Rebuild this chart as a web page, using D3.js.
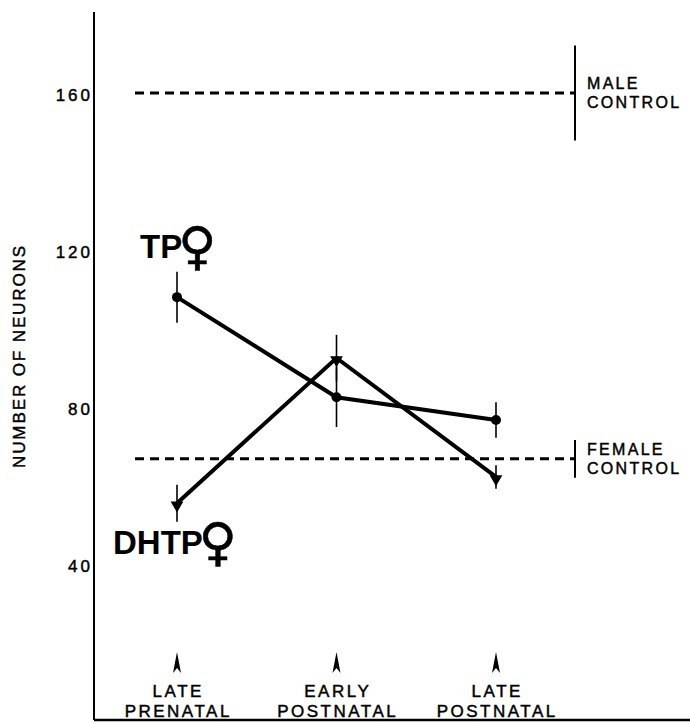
<!DOCTYPE html>
<html>
<head>
<meta charset="utf-8">
<script src="https://cdn.jsdelivr.net/npm/d3@7"></script>
<style>
  body { margin: 0; background: #fff; }
  text { font-family: "Liberation Sans", Arial, Helvetica, sans-serif; fill: #000; }
  .small { stroke: #000; stroke-width: 0.45px; }
</style>
</head>
<body>
<svg id="chart"></svg>
<script>
// ages of treatment (x categories)
var ages = ["LATE PRENATAL", "EARLY POSTNATAL", "LATE POSTNATAL"];
var ageLines = [["LATE", "PRENATAL"], ["EARLY", "POSTNATAL"], ["LATE", "POSTNATAL"]];

// number of neurons, mean and error
var tpValues = [108.5, 83, 77.2];
var tpErrors = [6.5, 7.6, 4.5];
var dhtpValues = [56, 93, 62.7];
var dhtpErrors = [4.7, 5.9, 3];

// controls
var controlNames = [["MALE", "CONTROL"], ["FEMALE", "CONTROL"]];
var controlValues = [160.5, 67.3];
var controlErrors = [12.1, 4.8];

var yTicks = [40, 80, 120, 160];

var settings = { width: 690, height: 723 };

var svg = d3.select("#chart")
    .attr("width", settings.width)
    .attr("height", settings.height);

var y = d3.scaleLinear().domain([40, 160]).range([566, 95]);
var x = d3.scalePoint().domain(ages).range([177, 496]);

var axisX = 94;
var bottomY = 720;

// axes frame
svg.append("line")
    .attr("x1", axisX).attr("x2", axisX)
    .attr("y1", 12).attr("y2", bottomY)
    .attr("stroke", "#000").attr("stroke-width", 2);
svg.append("line")
    .attr("x1", axisX).attr("x2", settings.width)
    .attr("y1", bottomY).attr("y2", bottomY)
    .attr("stroke", "#000").attr("stroke-width", 2.5);

// y tick labels
svg.selectAll(".ytick")
    .data(yTicks)
    .join("text")
    .attr("class", "ytick small")
    .attr("x", axisX - 1)
    .attr("y", d => y(d))
    .attr("dy", "0.35em")
    .attr("text-anchor", "end")
    .attr("font-size", 17)
    .attr("letter-spacing", 3)
    .text(d => d);

// y title
svg.append("text")
    .attr("class", "small")
    .attr("transform", "translate(25,356) rotate(-90)")
    .attr("text-anchor", "middle")
    .attr("font-size", 17)
    .attr("letter-spacing", 1.9)
    .text("NUMBER OF NEURONS");

// control lines
var dashStart = 135, dashEnd = 575;
controlValues.forEach(function(v, i) {
    svg.append("line")
        .attr("x1", dashStart).attr("x2", dashEnd)
        .attr("y1", y(v)).attr("y2", y(v))
        .attr("stroke", "#000").attr("stroke-width", 3)
        .attr("stroke-dasharray", "9,6");
    svg.append("line")
        .attr("x1", dashEnd).attr("x2", dashEnd)
        .attr("y1", y(v + controlErrors[i])).attr("y2", y(v - controlErrors[i]))
        .attr("stroke", "#000").attr("stroke-width", 2);
    var t = svg.append("text")
        .attr("class", "small")
        .attr("x", dashEnd + 12)
        .attr("y", y(v))
        .attr("font-size", 16)
        .attr("letter-spacing", 2.3);
    t.append("tspan").attr("x", dashEnd + 12).attr("dy", "-0.25em").text(controlNames[i][0]);
    t.append("tspan").attr("x", dashEnd + 12).attr("dy", "1.2em").text(controlNames[i][1]);
});

// error bars
function errBars(vals, errs, cls) {
    svg.selectAll("." + cls)
        .data(vals)
        .join("line")
        .attr("class", cls)
        .attr("x1", (d, i) => x(ages[i])).attr("x2", (d, i) => x(ages[i]))
        .attr("y1", (d, i) => y(d + errs[i])).attr("y2", (d, i) => y(d - errs[i]))
        .attr("stroke", "#000").attr("stroke-width", 1.6);
}
errBars(tpValues, tpErrors, "tperr");
errBars(dhtpValues, dhtpErrors, "dhtperr");

var line = d3.line()
    .x((d, i) => x(ages[i]))
    .y(d => y(d));

svg.append("path")
    .datum(tpValues)
    .attr("d", line)
    .attr("fill", "none").attr("stroke", "#000").attr("stroke-width", 4);
svg.append("path")
    .datum(dhtpValues)
    .attr("d", line)
    .attr("fill", "none").attr("stroke", "#000").attr("stroke-width", 4);

// markers
svg.selectAll(".tpdot")
    .data(tpValues)
    .join("circle")
    .attr("class", "tpdot")
    .attr("cx", (d, i) => x(ages[i]))
    .attr("cy", d => y(d))
    .attr("r", 5);

var tri = d3.symbol().type(d3.symbolTriangle).size(70);
svg.selectAll(".dhtptri")
    .data(dhtpValues)
    .join("path")
    .attr("class", "dhtptri")
    .attr("d", tri)
    .attr("transform", (d, i) => "translate(" + x(ages[i]) + "," + (y(d) + 2) + ") rotate(180)");

// series labels
function seriesLabel(name, lx, ly) {
    var t = svg.append("text")
        .attr("x", lx).attr("y", ly)
        .attr("font-size", 33).attr("font-weight", "bold");
    t.append("tspan").text(name);
    t.append("tspan")
        .attr("font-family", "DejaVu Sans").attr("font-size", 52)
        .attr("stroke", "#000").attr("stroke-width", 0.5)
        .attr("dx", -4).attr("dy", 6)
        .text("♀");
}
seriesLabel("TP", 140, 258);
seriesLabel("DHTP", 113, 554);

// arrows and age labels
svg.selectAll(".arrow")
    .data(ages)
    .join("path")
    .attr("class", "arrow")
    .attr("d", d => {
        var cx = x(d);
        return "M" + cx + ",652 L" + (cx + 4) + ",673 L" + cx + ",668 L" + (cx - 4) + ",673 Z";
    });

ageLines.forEach(function(lines, i) {
    var t = svg.append("text")
        .attr("class", "small")
        .attr("text-anchor", "middle")
        .attr("font-size", 17)
        .attr("letter-spacing", 2.5);
    t.append("tspan").attr("x", x(ages[i]) + 1.25).attr("y", 697).text(lines[0]);
    t.append("tspan").attr("x", x(ages[i]) + 1.25).attr("y", 717).text(lines[1]);
});
</script>
</body>
</html>
